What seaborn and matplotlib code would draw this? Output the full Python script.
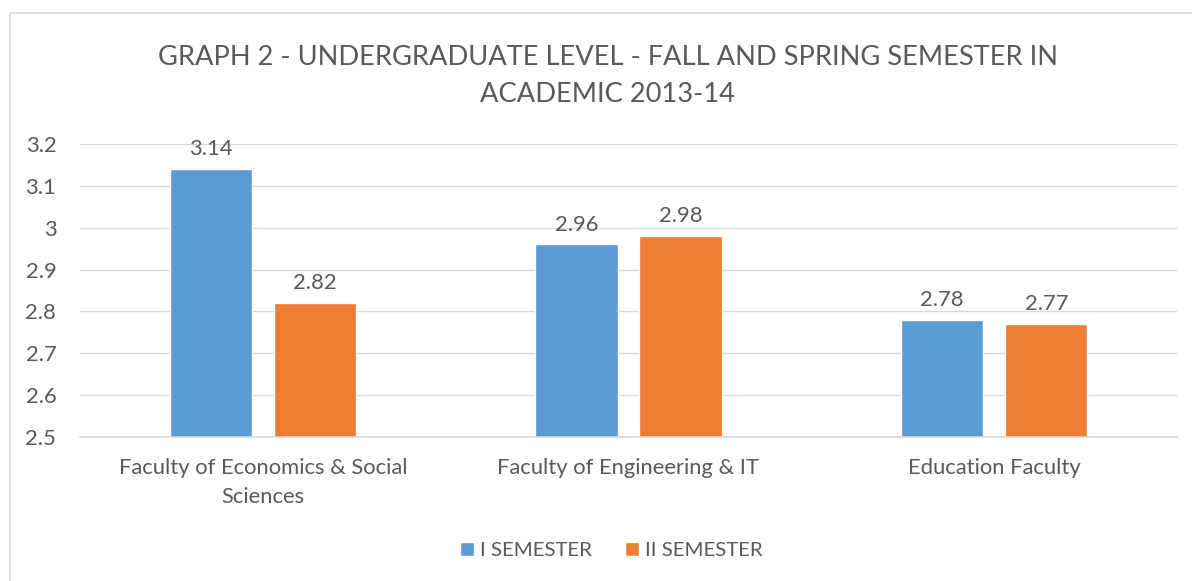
import pandas as pd
import matplotlib
matplotlib.use("Agg")
import matplotlib.pyplot as plt
from matplotlib.patches import Rectangle
import seaborn as sns

# Datos del gráfico
faculties = ["Faculty of Economics & Social\nSciences", "Faculty of Engineering & IT", "Education Faculty"]
semesters = ["I SEMESTER", "II SEMESTER"]
sem1 = [3.14, 2.96, 2.78]
sem2 = [2.82, 2.98, 2.77]

PALETTE = {"I SEMESTER": "#5B9BD5", "II SEMESTER": "#ED7D31"}
TEXT = "#595959"
GRID = "#D9D9D9"

df = pd.DataFrame({
    "faculty": faculties * 2,
    "semester": [semesters[0]] * 3 + [semesters[1]] * 3,
    "value": sem1 + sem2,
})

sns.set_style("white")
plt.rcParams["font.family"] = ["Lato", "DejaVu Sans"]

fig = plt.figure(figsize=(11.92, 5.81), dpi=100)
ax = fig.add_axes([0.0671, 0.2478, 0.9203, 0.5044])

sns.barplot(data=df, x="faculty", y="value", hue="semester", order=faculties,
            hue_order=semesters, palette=PALETTE, width=0.57, gap=0.21,
            saturation=1, ax=ax, legend=True)

for cont in ax.containers:
    ax.bar_label(cont, fmt="%.2f", padding=7, fontsize=15.8, color=TEXT)

ax.set_ylim(2.5, 3.2)
ax.set_yticks([2.5, 2.6, 2.7, 2.8, 2.9, 3.0, 3.1, 3.2])
ax.set_yticklabels(["2.5", "2.6", "2.7", "2.8", "2.9", "3", "3.1", "3.2"])
ax.set_xlim(-0.5, 2.5)
ax.yaxis.grid(True, color=GRID, linewidth=1)
ax.set_axisbelow(True)
for s in ["top", "right", "left"]:
    ax.spines[s].set_visible(False)
ax.spines["bottom"].set_color(GRID)
ax.spines["bottom"].set_linewidth(1.2)
ax.tick_params(axis="y", length=0, pad=17, labelsize=15.8, labelcolor=TEXT)
ax.tick_params(axis="x", length=0, pad=15, labelsize=15.8, labelcolor=TEXT)
for lbl in ax.get_xticklabels():
    lbl.set_linespacing(1.55)
ax.set_xlabel("")
ax.set_ylabel("")

handles, labels = ax.get_legend_handles_labels()
ax.legend_.remove()
fig.legend(handles, labels, loc="center", bbox_to_anchor=(0.513, 0.053), ncol=2,
           frameon=False, fontsize=14.7, labelcolor=TEXT, handlelength=0.7,
           handleheight=0.7, handletextpad=0.3, columnspacing=1.6)

fig.text(0.51, 0.87, "GRAPH 2 - UNDERGRADUATE LEVEL - FALL AND SPRING SEMESTER IN\nACADEMIC 2013-14",
         ha="center", va="center", fontsize=19.6, color=TEXT, linespacing=1.6)

# Marco del gráfico
fig.patches.append(Rectangle((0.0084, -0.05), 1.2, 0.9776 + 0.05, transform=fig.transFigure,
                             fill=False, edgecolor=GRID, linewidth=1.2))

fig.savefig("out.png", dpi=100)
plt.close(fig)
